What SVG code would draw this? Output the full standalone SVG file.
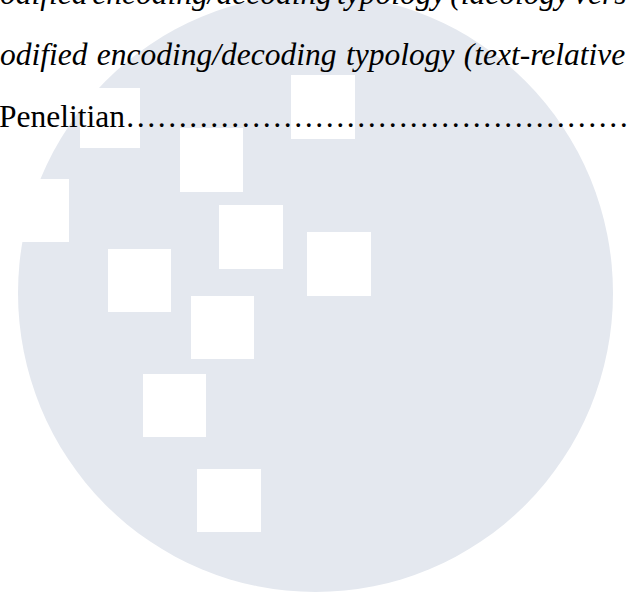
<svg xmlns="http://www.w3.org/2000/svg" width="631" height="592" viewBox="0 0 631 592">
<style>
.bg{fill:#e4e8ef}
.sq{fill:#ffffff}
.it{font-family:"Liberation Serif","Times New Roman",serif;font-style:italic;font-size:31.5px;fill:#000}
.rm{font-family:"Liberation Serif","Times New Roman",serif;font-size:31.5px;fill:#000}
</style>
<rect width="631" height="592" fill="#ffffff"/>
<g id="watermark">
<ellipse class="bg" cx="315.5" cy="293" rx="297.5" ry="299"/>
<rect class="sq" x="80" y="88" width="60" height="60"/>
<rect class="sq" x="291" y="75" width="64" height="64"/>
<rect class="sq" x="180" y="128" width="63" height="64"/>
<rect class="sq" x="0" y="179" width="69" height="63"/>
<rect class="sq" x="219" y="205" width="64" height="64"/>
<rect class="sq" x="307" y="232" width="64" height="64"/>
<rect class="sq" x="108" y="249" width="63" height="63"/>
<rect class="sq" x="191" y="296" width="63" height="63"/>
<rect class="sq" x="143" y="374" width="63" height="63"/>
<rect class="sq" x="197" y="469" width="64" height="63"/>
</g>
<g id="text">
<text class="it" x="0" y="4" word-spacing="-3">odified encoding/decoding typology (ideology vers</text>
<text class="it" x="0" y="65" word-spacing="1.5">odified encoding/decoding typology (text-relative</text>
<text class="rm" x="-1" y="127">Penelitian……………………………………………</text>
</g>
</svg>
